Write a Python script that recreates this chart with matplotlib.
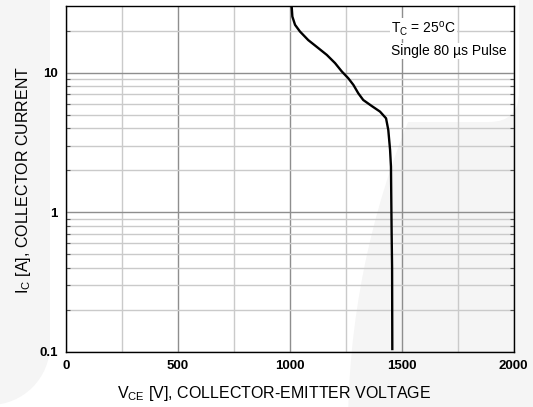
import matplotlib
matplotlib.use('Agg')
import matplotlib.pyplot as plt
from matplotlib.patches import Circle, Rectangle, FancyBboxPatch
from matplotlib.transforms import IdentityTransform
from matplotlib.ticker import FixedLocator, NullFormatter

plt.rcParams['font.family'] = ['Liberation Sans', 'DejaVu Sans']
plt.rcParams['mathtext.fontset'] = 'custom'
plt.rcParams['mathtext.rm'] = 'Liberation Sans'

# curva (V_CE em V, I_C em A)
vce = [1005, 1008, 1011, 1023, 1045, 1082, 1120, 1165, 1202, 1232, 1261, 1284,
       1306, 1328, 1366, 1403, 1430, 1440, 1448, 1452, 1454, 1455, 1457, 1458]
ic = [30, 29.7, 25.2, 22.0, 19.7, 17.1, 15.3, 13.4, 11.7, 10.2, 9.12, 8.17,
      7.11, 6.37, 5.77, 5.26, 4.71, 3.89, 2.8, 2.12, 1.0, 0.71, 0.4, 0.103]

x_major = [0, 500, 1000, 1500, 2000]
x_minor = [250, 750, 1250, 1750]
y_major = [0.1, 1, 10]
y_labels = ['0.1', '1', '10']
y_minor = [0.2, 0.3, 0.4, 0.5, 0.6, 0.7, 0.8, 0.9,
           2, 3, 4, 5, 6, 7, 8, 9, 20]

W, H = 533, 407
fig = plt.figure(figsize=(W / 100, H / 100), dpi=100)

# marca d'agua clara no fundo (coordenadas em pixels)
gray = '#f5f5f5'
for p in [Rectangle((0, H - 345), 50, 345, fc=gray, ec='none'),
          Circle((-10, H - 345), 60, fc=gray, ec='none'),
          Circle((1168, H - 430), 820, fc=gray, ec='none'),
          FancyBboxPatch((283, H - 122), 236, 200,
                         boxstyle='round,pad=0,rounding_size=30',
                         fc='white', ec='none')]:
    p.set_transform(IdentityTransform())
    p.set_zorder(-5)
    fig.add_artist(p)

ax = fig.add_axes([66.3 / W, (H - 352) / H, (513.5 - 66.3) / W, (352 - 6) / H])
ax.patch.set_alpha(0)

ax.set_yscale('log')
ax.set_xlim(0, 2000)
ax.set_ylim(0.1, 30)

ax.xaxis.set_major_locator(FixedLocator(x_major))
ax.xaxis.set_minor_locator(FixedLocator(x_minor))
ax.yaxis.set_major_locator(FixedLocator(y_major))
ax.yaxis.set_minor_locator(FixedLocator(y_minor))
ax.set_yticklabels(y_labels)
ax.yaxis.set_minor_formatter(NullFormatter())

ax.grid(True, which='major', color='#8e8e8e', lw=1.0)
ax.grid(True, which='minor', color='#cacaca', lw=1.0)
ax.set_axisbelow(True)

ax.tick_params(which='both', length=0, labelsize=9.5, pad=6)
ax.tick_params(axis='y', which='minor', direction='in', length=3, right=True,
               color='#555555', width=0.8)
for lab in ax.get_xticklabels() + ax.get_yticklabels():
    lab.set_fontweight('bold')

for s in ax.spines.values():
    s.set_color('black')
    s.set_linewidth(1.0)

ax.plot(vce, ic, color='black', lw=1.7, solid_capstyle='butt')

fig.text(391 / W, (H - 33) / H, r'T$_{\mathregular{C}}$ = 25$^{\mathregular{o}}$C',
         fontsize=10, va='baseline', ha='left',
         bbox=dict(fc='white', ec='none', pad=1))
fig.text(391 / W, (H - 55) / H, 'Single 80 \u00b5s Pulse', fontsize=10,
         va='baseline', ha='left', bbox=dict(fc='white', ec='none', pad=1))

fig.text(274 / W, (H - 398) / H,
         r'V$_{\mathregular{CE}}$ [V], COLLECTOR-EMITTER VOLTAGE',
         fontsize=11.5, ha='center', va='baseline')
fig.text(24 / W, (H - 180) / H, r'I$_{\mathregular{C}}$ [A], COLLECTOR CURRENT',
         fontsize=11.5, ha='center', va='center', rotation=90)

fig.savefig('out.png', dpi=100)
